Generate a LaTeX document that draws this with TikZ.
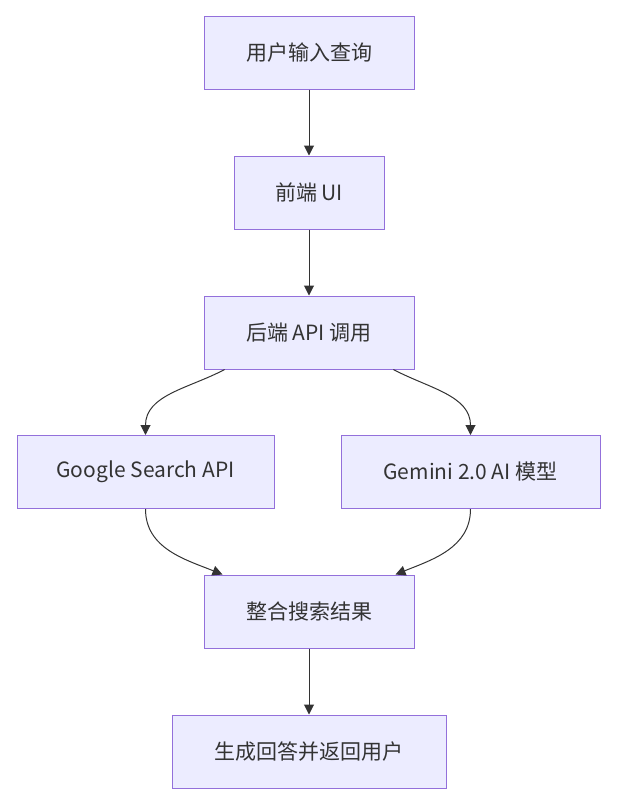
\documentclass[tikz,border=0pt]{standalone}
\usepackage{fontspec}
\setmainfont{Noto Sans CJK SC}
\usetikzlibrary{arrows.meta,calc}
\definecolor{boxfill}{HTML}{ECECFF}
\definecolor{boxline}{HTML}{9370DB}
\definecolor{edgecol}{HTML}{333333}
\tikzset{
    flowbox/.style={draw=boxline,fill=boxfill,line width=1pt,minimum height=73pt,inner sep=0pt,text=edgecol,font=\fontsize{21}{25}\selectfont},
    flowarrow/.style={draw=edgecol,line width=1pt,-{Triangle[length=10pt,width=10pt]}}
}
\begin{document}
\begin{tikzpicture}[x=1pt,y=-1pt]
    \useasboundingbox (0,0) rectangle (620,812);
    \pgfmathsetmacro{\mx}{309};
    
    \node[flowbox,minimum width=210pt] (query) at (\mx,52.5) {用户输入查询};
    \node[flowbox,minimum width=150pt] (front) at (\mx,192.5) {前端 UI};
    \node[flowbox,minimum width=210pt] (back) at (\mx,332.5) {后端 API 调用};
    \node[flowbox,minimum width=257pt] (google) at (145.5,472) {Google Search API};
    \node[flowbox,minimum width=259pt] (gemini) at (470.5,472) {Gemini 2.0 AI 模型};
    \node[flowbox,minimum width=210pt] (merge) at (\mx,611.5) {整合搜索结果};
    \node[flowbox,minimum width=274pt] (answer) at (\mx,751.5) {生成回答并返回用户};

    \draw[flowarrow] (query) -- (front);
    \draw[flowarrow] (front) -- (back);
    \draw[flowarrow] ($(back.south west)!0.1!(back.south east)$) to[out=-152,in=90] (google.north);
    \draw[flowarrow] ($(back.south west)!0.9!(back.south east)$) to[out=-28,in=90] (gemini.north);
    \draw[flowarrow] (google.south) to[out=-90,in=158] ($(merge.north west)!0.09!(merge.north east)$);
    \draw[flowarrow] (gemini.south) to[out=-90,in=22] ($(merge.north west)!0.91!(merge.north east)$);
    \draw[flowarrow] (merge) -- (answer);
    
\end{tikzpicture}
\end{document}
